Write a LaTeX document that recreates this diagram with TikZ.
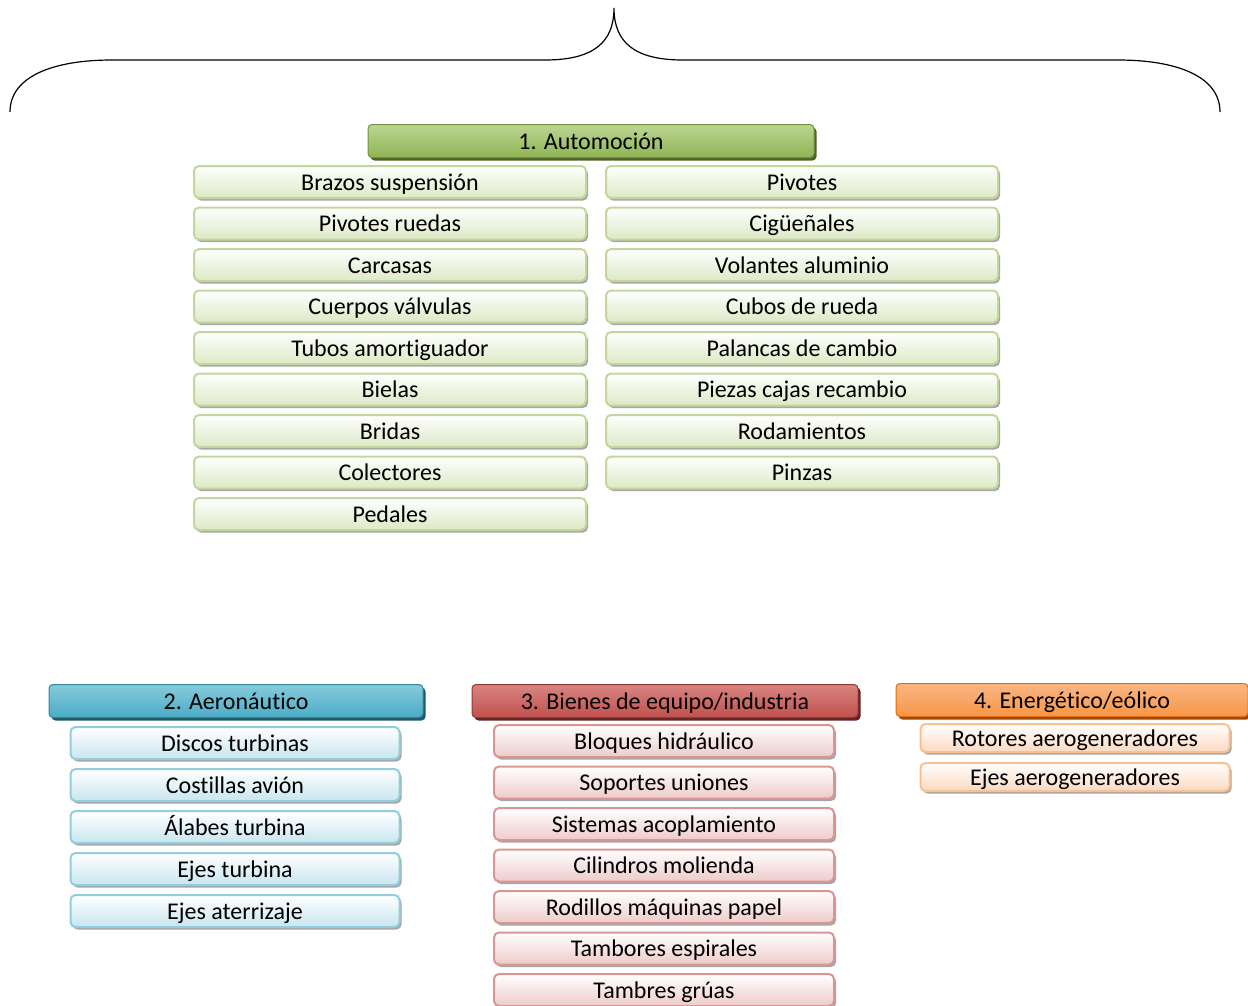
\documentclass[tikz,border=0pt]{standalone}
\usepackage{fontspec}
\setmainfont{Carlito}[Ligatures=NoCommon]
\usepackage{tikz}
\usetikzlibrary{positioning,shadows}

\definecolor{grnTop}{HTML}{BCD592}
\definecolor{grnBot}{HTML}{8FB454}
\definecolor{grnLine}{HTML}{76923C}
\definecolor{grnShad}{HTML}{4F6228}
\definecolor{grnItem}{HTML}{DCE9C5}
\definecolor{grnItemLine}{HTML}{C3D69B}
\definecolor{bluTop}{HTML}{86CADC}
\definecolor{bluBot}{HTML}{4BACC6}
\definecolor{bluLine}{HTML}{31859C}
\definecolor{bluShad}{HTML}{215968}
\definecolor{bluItem}{HTML}{C8E6EF}
\definecolor{bluItemLine}{HTML}{93CDDD}
\definecolor{redTop}{HTML}{D88582}
\definecolor{redBot}{HTML}{C0504D}
\definecolor{redLine}{HTML}{953735}
\definecolor{redShad}{HTML}{632423}
\definecolor{redItem}{HTML}{EDCBCA}
\definecolor{redItemLine}{HTML}{D99694}
\definecolor{orgTop}{HTML}{FAB685}
\definecolor{orgBot}{HTML}{F79646}
\definecolor{orgLine}{HTML}{E46C0A}
\definecolor{orgShad}{HTML}{974806}
\definecolor{orgItem}{HTML}{FCD9C0}
\definecolor{orgItemLine}{HTML}{FAC090}

\begin{document}
\begin{tikzpicture}[
  x=1pt, y=-1pt,
  node distance=7.5pt,
  every node/.style={font=\fontsize{24}{28}\selectfont, text=black},
  hdr/.style={rounded corners=4pt, line width=1pt, minimum height=33pt,
              inner sep=0pt, text height=18pt, text depth=2pt},
  itm/.style={rounded corners=5pt, line width=2pt, minimum height=32pt,
              inner sep=0pt, text height=18pt, text depth=2pt},
  grnhdr/.style={hdr, draw=grnLine, top color=grnTop, bottom color=grnBot,
                 drop shadow={shadow xshift=2.5pt, shadow yshift=-3pt, fill=grnShad, opacity=1}},
  grnitm/.style={itm, draw=grnItemLine, top color=white, bottom color=grnItem,
                 minimum width=392pt,
                 drop shadow={shadow xshift=2pt, shadow yshift=-2.5pt, fill=black!35, opacity=1}},
  bluhdr/.style={hdr, draw=bluLine, top color=bluTop, bottom color=bluBot,
                 drop shadow={shadow xshift=2.5pt, shadow yshift=-3pt, fill=bluShad, opacity=1}},
  bluitm/.style={itm, draw=bluItemLine, top color=white, bottom color=bluItem,
                 minimum width=329pt,
                 drop shadow={shadow xshift=2pt, shadow yshift=-2.5pt, fill=black!35, opacity=1}},
  redhdr/.style={hdr, draw=redLine, top color=redTop, bottom color=redBot,
                 drop shadow={shadow xshift=2.5pt, shadow yshift=-3pt, fill=redShad, opacity=1}},
  reditm/.style={itm, draw=redItemLine, top color=white, bottom color=redItem,
                 minimum width=340pt,
                 drop shadow={shadow xshift=2pt, shadow yshift=-2.5pt, fill=black!35, opacity=1}},
  orghdr/.style={hdr, draw=orgLine, top color=orgTop, bottom color=orgBot,
                 drop shadow={shadow xshift=2.5pt, shadow yshift=-3pt, fill=orgShad, opacity=1}},
  orgitm/.style={itm, draw=orgItemLine, top color=white, bottom color=orgItem,
                 minimum width=309pt, minimum height=28pt,
                 drop shadow={shadow xshift=2pt, shadow yshift=-2.5pt, fill=black!35, opacity=1}},
]
\clip (0,0) rectangle (1248,1005);

% ---------- brace ----------
\draw[line width=1.2pt] (10,112) .. controls (10,76) and (54,60) .. (112,60)
  -- (545,60) .. controls (594,60) and (614,42) .. (614,8)
  .. controls (614,42) and (634,60) .. (683,60)
  -- (1118,60) .. controls (1176,60) and (1220,76) .. (1220,112);

% ---------- 1. Automocion ----------
\node[grnhdr, minimum width=446pt] (auto) at (591,141) {1. Automoción};

\node[grnitm] (brazos) at (390,182) {Brazos suspensión};
\node[grnitm, below=of brazos] (pivruedas) {Pivotes ruedas};
\node[grnitm, below=of pivruedas] (carcasas) {Carcasas};
\node[grnitm, below=of carcasas] (cuerpos) {Cuerpos válvulas};
\node[grnitm, below=of cuerpos] (tubos) {Tubos amortiguador};
\node[grnitm, below=of tubos] (bielas) {Bielas};
\node[grnitm, below=of bielas] (bridas) {Bridas};
\node[grnitm, below=of bridas] (colectores) {Colectores};
\node[grnitm, below=of colectores] (pedales) {Pedales};

\node[grnitm] (pivotes) at (802,182) {Pivotes};
\node[grnitm, below=of pivotes] (ciguenales) {Cigüeñales};
\node[grnitm, below=of ciguenales] (volantes) {Volantes aluminio};
\node[grnitm, below=of volantes] (cubos) {Cubos de rueda};
\node[grnitm, below=of cubos] (palancas) {Palancas de cambio};
\node[grnitm, below=of palancas] (piezas) {Piezas cajas recambio};
\node[grnitm, below=of piezas] (rodam) {Rodamientos};
\node[grnitm, below=of rodam] (pinzas) {Pinzas};

% ---------- 2. Aeronautico ----------
\node[bluhdr, minimum width=374pt] (aero) at (236,701) {2. Aeronáutico};
\node[bluitm] (discos) at (235,743) {Discos turbinas};
\node[bluitm, below=8pt of discos] (costillas) {Costillas avión};
\node[bluitm, below=8pt of costillas] (alabes) {Álabes turbina};
\node[bluitm, below=8pt of alabes] (ejesturb) {Ejes turbina};
\node[bluitm, below=8pt of ejesturb] (ejesater) {Ejes aterrizaje};

% ---------- 3. Bienes de equipo ----------
\node[redhdr, minimum width=386pt] (bienes) at (665,701) {3. Bienes de equipo/industria};
\node[reditm] (bloques) at (664,741) {Bloques hidráulico};
\node[reditm, below=of bloques] (soportes) {Soportes uniones};
\node[reditm, below=of soportes] (sistemas) {Sistemas acoplamiento};
\node[reditm, below=of sistemas] (cilindros) {Cilindros molienda};
\node[reditm, below=of cilindros] (rodillos) {Rodillos máquinas papel};
\node[reditm, below=of rodillos] (tambores) {Tambores espirales};
\node[reditm, below=of tambores] (tambres) {Tambres grúas};

% ---------- 4. Energetico ----------
\node[orghdr, minimum width=352pt] (energ) at (1072,700) {4. Energético/eólico};
\node[orgitm] (rotores) at (1075,738) {Rotores aerogeneradores};
\node[orgitm, below=9pt of rotores] (ejesaero) {Ejes aerogeneradores};

\end{tikzpicture}
\end{document}
